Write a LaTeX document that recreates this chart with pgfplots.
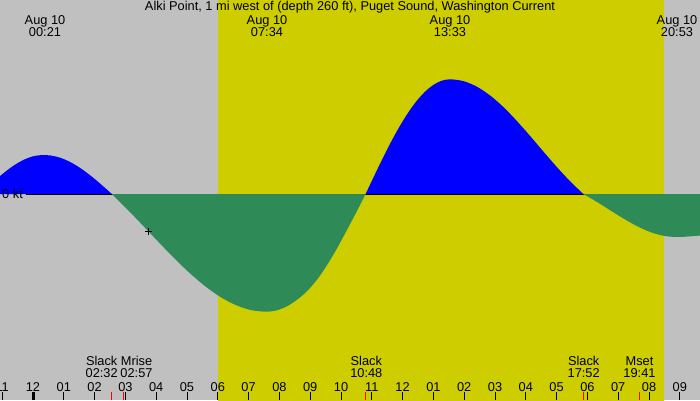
\documentclass[border=0pt]{standalone}
\usepackage{pgfplots}
\pgfplotsset{compat=1.18}
\usepackage{fontspec}
\setmainfont{Liberation Sans}
\definecolor{bggray}{RGB}{192,192,192}
\definecolor{dayyel}{RGB}{205,205,0}
\definecolor{ebbgreen}{RGB}{46,139,87}
\begin{document}
\begin{tikzpicture}
\begin{axis}[
  width=700pt, height=400pt, scale only axis,
  xmin=-1.0714, xmax=21.656, ymin=-2.06, ymax=1.94,
  axis background/.style={fill=bggray},
  axis on top,
  axis x line*=bottom, axis y line=none,
  x axis line style={draw=none},
  ytick=\empty,
  xtick={-1,0,...,21},
  xticklabels={11,12,01,02,03,04,05,06,07,08,09,10,11,12,01,02,03,04,05,06,07,08,09},
  tick align=inside,
  major tick length=8pt,
  xtick style={black, line width=1pt},
  xticklabel style={anchor=base, yshift=9pt, font=\fontsize{12.8}{14}\selectfont},
  extra x ticks={2.533,2.95,10.8,17.867,19.683},
  extra x tick labels={},
  extra x tick style={xtick style={red, line width=1pt}},
  /pgf/number format/assume math mode=true,
  clip=true,
]
% daylight band
\addplot[fill=dayyel, draw=none] coordinates {(6.006,-3) (20.487,-3) (20.487,3) (6.006,3)} -- cycle;
% flood (blue)
\addplot[fill=blue, draw=none, smooth] coordinates {
(-1.071,0.18) (-0.75,0.258) (-0.5,0.309) (-0.25,0.349) (0,0.377) (0.2,0.387) (0.35,0.39)
(0.571,0.385) (0.792,0.371) (1.013,0.3475) (1.234,0.3155) (1.455,0.276) (1.676,0.229)
(1.897,0.177) (2.118,0.1205) (2.339,0.061) (2.56,0)
} \closedcycle;
\addplot[fill=blue, draw=none, smooth] coordinates {
(10.8,0) (11.075,0.179) (11.35,0.354) (11.625,0.521) (11.90,0.674) (12.175,0.811)
(12.45,0.928) (12.725,1.022) (13.00,1.091) (13.275,1.133) (13.55,1.147)
(13.982,1.128) (14.413,1.073) (14.845,0.984) (15.277,0.868) (15.709,0.730)
(16.140,0.580) (16.572,0.424) (17.004,0.271) (17.435,0.128) (17.867,0)
} \closedcycle;
% zero line
\addplot[black, line width=1pt] coordinates {(-0.227,0) (21.656,0)};
% ebb (green)
\addplot[fill=ebbgreen, draw=none, smooth] coordinates {
(2.56,0) (3.061,-0.153) (3.561,-0.313) (4.062,-0.476) (4.563,-0.635) (5.064,-0.784)
(5.564,-0.916) (6.065,-1.026) (6.566,-1.108) (7.066,-1.160) (7.567,-1.177)
(7.890,-1.165) (8.214,-1.128) (8.537,-1.065) (8.860,-0.983) (9.184,-0.871)
(9.507,-0.730) (9.830,-0.565) (10.153,-0.383) (10.477,-0.194) (10.8,0)
} \closedcycle;
\addplot[fill=ebbgreen, draw=none, smooth] coordinates {
(17.867,0) (18.169,-0.053) (18.470,-0.110) (18.772,-0.169) (19.073,-0.227) (19.375,-0.282)
(19.677,-0.331) (19.978,-0.373) (20.280,-0.404) (20.581,-0.423) (20.883,-0.43)
(21.2,-0.427) (21.656,-0.415)
} \closedcycle;
% current time marker
\addplot[only marks, mark=+, mark size=3.5pt, black, line width=1pt] coordinates {(3.766,-0.37)};
\end{axis}
% overlay text, in picture coords (1pt = 1px, origin bottom-left of axis)
\begin{scope}[font=\fontsize{12.8}{14}\selectfont, inner sep=0pt]
\node[anchor=base] at (350pt,389pt) {Alki Point, 1 mi west of (depth 260 ft), Puget Sound, Washington Current};
\node[anchor=base] at (45pt,375.5pt) {Aug 10};
\node[anchor=base] at (45pt,363.5pt) {00:21};
\node[anchor=base] at (267pt,375.5pt) {Aug 10};
\node[anchor=base] at (267pt,363.5pt) {07:34};
\node[anchor=base] at (450pt,375.5pt) {Aug 10};
\node[anchor=base] at (450pt,363.5pt) {13:33};
\node[anchor=base] at (677pt,375.5pt) {Aug 10};
\node[anchor=base] at (677pt,363.5pt) {20:53};
\node[anchor=west] at (2pt,206pt) {0 kt};
\node[anchor=base] at (101.7pt,34.5pt) {Slack};
\node[anchor=base] at (101.7pt,22.5pt) {02:32};
\node[anchor=base] at (136.5pt,34.5pt) {Mrise};
\node[anchor=base] at (136.5pt,22.5pt) {02:57};
\node[anchor=base] at (366.3pt,34.5pt) {Slack};
\node[anchor=base] at (366.3pt,22.5pt) {10:48};
\node[anchor=base] at (583.7pt,34.5pt) {Slack};
\node[anchor=base] at (583.7pt,22.5pt) {17:52};
\node[anchor=base] at (639.5pt,34.5pt) {Mset};
\node[anchor=base] at (639.5pt,22.5pt) {19:41};
\end{scope}
\fill[black] (31.5pt,0pt) rectangle (34.5pt,8pt);
\pgfresetboundingbox
\path[use as bounding box] (0pt,0pt) rectangle (700pt,400pt);
\end{tikzpicture}
\end{document}
